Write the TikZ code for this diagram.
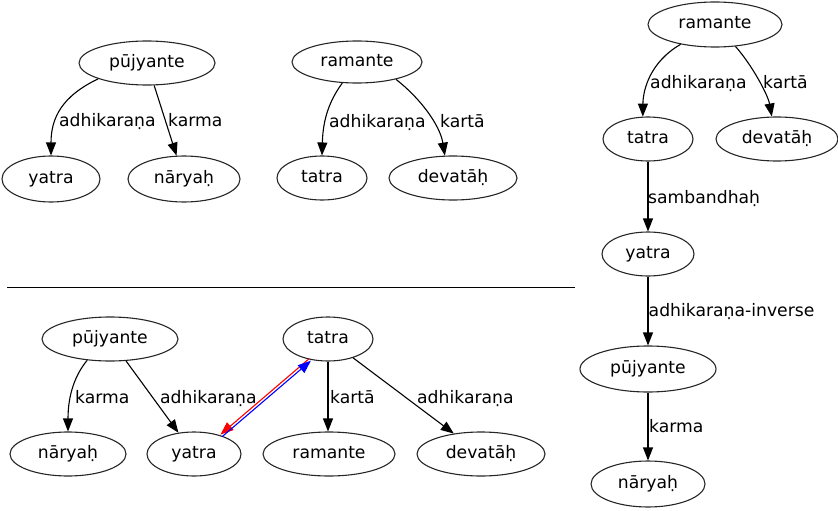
\documentclass[tikz,border=0pt]{standalone}
\usepackage{fontspec}
\setmainfont{DejaVu Sans}
\usetikzlibrary{shapes.geometric,arrows.meta}
\tikzset{
  ent/.style={ellipse, draw=black!85, line width=1.1pt, inner sep=0pt, text height=12pt, text depth=3.5pt},
  rel/.style={anchor=base west, inner sep=0pt},
  conn/.style={line width=1.1pt, -{Triangle[length=13pt,width=10pt]}},
}
\begin{document}
\begin{tikzpicture}[x=1pt,y=-1pt,font=\fontsize{17.2}{20}\selectfont]
\useasboundingbox (0,0) rectangle (838,511);
% top-left graph
\node[ent, minimum width=136pt, minimum height=44pt] (p1) at (147,63) {pūjyante};
\node[ent, minimum width=98pt, minimum height=46pt] (y1) at (51,179) {yatra};
\node[ent, minimum width=112pt, minimum height=46pt] (n1) at (184,179) {nāryaḥ};
\draw[conn] (p1.198) .. controls (62,96) and (51,118) .. (y1.north);
\draw[conn] (p1) -- (n1);
\node[rel] (l1) at (59,126.5) {adhikaraṇa};
\node[rel] (l2) at (168,126.5) {karma};
% top-middle graph
\node[ent, minimum width=130pt, minimum height=42pt] (r1) at (357,62) {ramante};
\node[ent, minimum width=90pt, minimum height=44pt] (t1) at (322,178) {tatra};
\node[ent, minimum width=128pt, minimum height=44pt] (d1) at (453,178) {devatāḥ};
\draw[conn] (r1.235) .. controls (330,100) and (323,118) .. (t1.north);
\draw[conn] (r1.-24) .. controls (420,98) and (440,125) .. (d1.110);
\node[rel] (l3) at (329,127.5) {adhikaraṇa};
\node[rel] (l4) at (440,127.5) {kartā};
% separator
\coordinate (sepL) at (7,287);
\coordinate (sepR) at (575,287);
\draw[line width=1pt] (sepL) -- (sepR);
% bottom graph
\node[ent, minimum width=136pt, minimum height=44pt] (p2) at (110,339) {pūjyante};
\node[ent, minimum width=116pt, minimum height=44pt] (n2) at (68,454) {nāryaḥ};
\node[ent, minimum width=94pt, minimum height=44pt] (y2) at (194,454) {yatra};
\node[ent, minimum width=90pt, minimum height=44pt] (t2) at (328,339) {tatra};
\node[ent, minimum width=132pt, minimum height=44pt] (r2) at (329,454) {ramante};
\node[ent, minimum width=128pt, minimum height=44pt] (d2) at (481,454) {devatāḥ};
\draw[conn] (p2.223) .. controls (75,375) and (68,395) .. (n2.north);
\draw[conn] (p2) -- (y2);
\draw[conn] (t2.south) -- (t2.south |- r2.north);
\draw[conn] (t2) -- (d2);
\draw[conn, red] ([xshift=-0.9pt,yshift=1pt]t2.229) -- ([xshift=-0.9pt,yshift=1pt]y2.34);
\draw[conn, blue] ([xshift=0.9pt,yshift=-1pt]y2.34) -- ([xshift=0.9pt,yshift=-1pt]t2.229);
\node[rel] (l5) at (75,403.5) {karma};
\node[rel] (l6) at (160,403.5) {adhikaraṇa};
\node[rel] (l7) at (330,403.5) {kartā};
\node[rel] (l8) at (417,403.5) {adhikaraṇa};
% right graph
\node[ent, minimum width=134pt, minimum height=45pt] (r3) at (715,24.5) {ramante};
\node[ent, minimum width=90pt, minimum height=44pt] (t3) at (648,139) {tatra};
\node[ent, minimum width=122pt, minimum height=44pt] (d3) at (777,139) {devatāḥ};
\node[ent, minimum width=92pt, minimum height=44pt] (y3) at (648,254) {yatra};
\node[ent, minimum width=136pt, minimum height=46pt] (p3) at (648,369) {pūjyante};
\node[ent, minimum width=114pt, minimum height=46pt] (n3) at (648,484) {nāryaḥ};
\draw[conn] (r3.210) .. controls (650,62) and (643,90) .. (t3.103);
\draw[conn] (r3.-47) .. controls (752,65) and (768,95) .. (d3.103);
\draw[conn] (t3) -- (y3);
\draw[conn] (y3) -- (p3);
\draw[conn] (p3) -- (n3);
\node[rel] (l9) at (650,88.5) {adhikaraṇa};
\node[rel] (l10) at (763,88.5) {kartā};
\node[rel] (l11) at (648,203.5) {sambandhaḥ};
\node[rel] (l12) at (648.5,316.5) {adhikaraṇa-inverse};
\node[rel] (l13) at (649,432.5) {karma};
\end{tikzpicture}
\end{document}
